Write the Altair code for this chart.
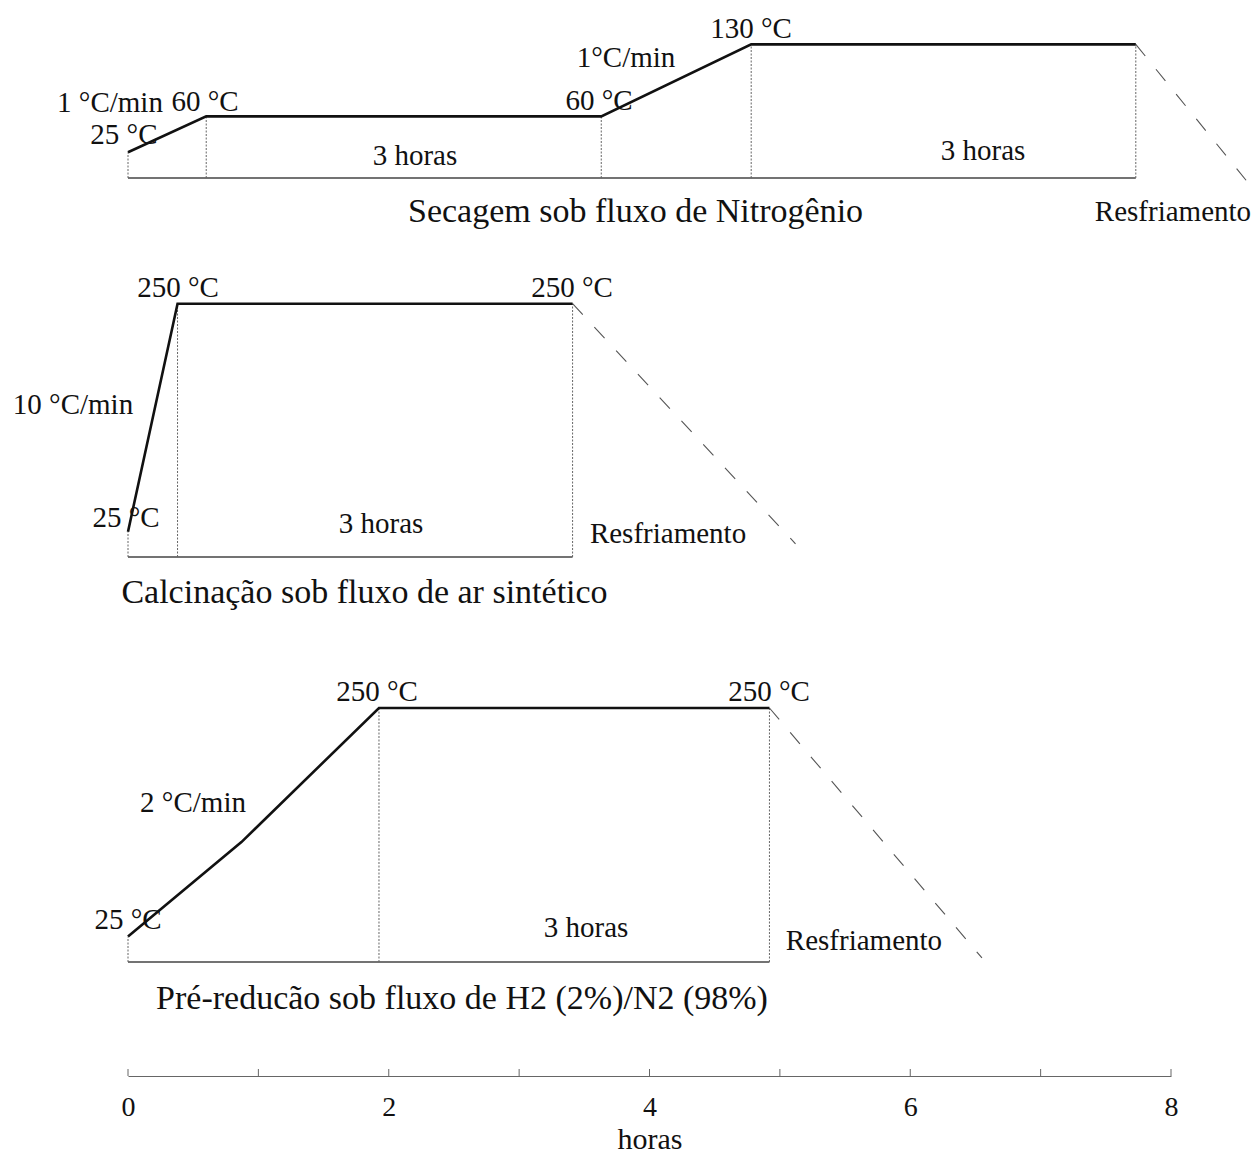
import altair as alt
import pandas as pd

FONT = "Liberation Serif"
INK = "#111111"
GUIDE = "#666666"

HOURS_DOMAIN = [0, 8]
PLOT_WIDTH = 1043

# Secagem sob fluxo de Nitrogênio: (horas, °C) breakpoints of the program
SEC_TIME = [0.0, 0.60, 3.63, 4.78, 7.73]
SEC_TEMP = [25, 60, 60, 130, 130]
SEC_COOL = [8.60, -6]          # end of the cooling stroke
SEC_LABELS = [
    ("1 °C/min", -0.138, 73.0),
    ("25 °C", -0.031, 41.8),
    ("60 °C", 0.591, 73.9),
    ("3 horas", 2.201, 21.4),
    ("60 °C", 3.613, 74.9),
    ("1°C/min", 3.820, 116.7),
    ("130 °C", 4.779, 144.9),
    ("3 horas", 6.558, 26.3),
    ("Resfriamento", 8.015, -33.1),
]
SEC_TITLE = ("Secagem sob fluxo de Nitrogênio", 3.893, -33.1)

# Calcinação sob fluxo de ar sintético
CAL_TIME = [0.0, 0.38, 3.41]
CAL_TEMP = [25, 250, 250]
CAL_COOL = [5.12, 13]
CAL_LABELS = [
    ("250 °C", 0.384, 265.5),
    ("250 °C", 3.406, 265.5),
    ("10 °C/min", -0.422, 150.0),
    ("25 °C", -0.015, 38.5),
    ("3 horas", 1.941, 32.6),
    ("Resfriamento", 4.142, 22.7),
]
CAL_TITLE = ("Calcinação sob fluxo de ar sintético", 1.814, -35.5)

# Pré-redução sob fluxo de H2 (2%)/N2 (98%)
PRE_TIME = [0.0, 0.87, 1.925, 4.92]
PRE_TEMP = [25, 118, 250, 250]
PRE_COOL = [6.55, 4]
PRE_LABELS = [
    ("250 °C", 1.910, 265.7),
    ("250 °C", 4.917, 265.7),
    ("2 °C/min", 0.499, 156.5),
    ("25 °C", 0.0, 41.3),
    ("3 horas", 3.513, 33.5),
    ("Resfriamento", 5.645, 20.7),
]
PRE_TITLE = ("Pré-reducão sob fluxo de H2 (2%)/N2 (98%)", 2.562, -36.4)

AXIS_HOURS = list(range(0, 9))

LABEL_SIZE = 29
TITLE_SIZE = 34


def stage_bounds(time, temp):
    """Indices where a heating stage starts or ends (first, last, or next to a plateau)."""
    idx = []
    n = len(time)
    for i in range(n):
        flat_prev = i > 0 and temp[i] == temp[i - 1]
        flat_next = i < n - 1 and temp[i] == temp[i + 1]
        if i == 0 or i == n - 1 or flat_prev or flat_next:
            idx.append(i)
    return idx


def panel(time, temp, cool, labels, title, height, ydom, axis=None, ticks=False):
    x_scale = alt.Scale(domain=HOURS_DOMAIN, nice=False, zero=False)
    y_scale = alt.Scale(domain=ydom, nice=False, zero=False)

    def X():
        return alt.X("t:Q", scale=x_scale, axis=axis)

    def Y():
        return alt.Y("T:Q", scale=y_scale, axis=None)

    profile = pd.DataFrame({"t": time, "T": temp, "step": range(len(time))})
    bounds = stage_bounds(time, temp)
    guides = pd.DataFrame({
        "t": [time[i] for i in bounds],
        "T": [0] * len(bounds),
        "T2": [temp[i] for i in bounds],
    })
    base = pd.DataFrame({"t": [time[0]], "t2": [time[-1]], "T": [0]})
    cooling = pd.DataFrame({"t": [time[-1], cool[0]], "T": [temp[-1], cool[1]], "step": [0, 1]})
    texts = pd.DataFrame(
        [{"text": s, "t": t, "T": T, "size": LABEL_SIZE} for s, t, T in labels]
        + [{"text": title[0], "t": title[1], "T": title[2], "size": TITLE_SIZE}]
    )

    layers = [
        alt.Chart(base).mark_rule(color="#444444", strokeWidth=1.3).encode(
            x=X(), x2=alt.X2("t2:Q"), y=Y()
        ),
        alt.Chart(guides).mark_rule(color=GUIDE, strokeWidth=1, strokeDash=[2, 1.5]).encode(
            x=X(), y=Y(), y2=alt.Y2("T2:Q")
        ),
        alt.Chart(cooling).mark_line(color="#555555", strokeWidth=1.1, strokeDash=[15, 17]).encode(
            x=X(), y=Y(), order="step:Q"
        ),
        alt.Chart(profile).mark_line(color=INK, strokeWidth=2.6).encode(
            x=X(), y=Y(), order="step:Q"
        ),
        alt.Chart(texts).mark_text(font=FONT, color=INK, baseline="middle", align="center").encode(
            x=X(), y=Y(), text="text:N", size=alt.Size("size:Q", scale=None, legend=None)
        ),
    ]
    if ticks:
        tick_df = pd.DataFrame({"t": AXIS_HOURS})
        layers.append(
            alt.Chart(tick_df).mark_rule(color=GUIDE, strokeWidth=1).encode(
                x=X(), y=alt.value(height - 7), y2=alt.value(height)
            )
        )
    return alt.layer(*layers).properties(width=PLOT_WIDTH, height=height)


hours_axis = alt.Axis(
    values=AXIS_HOURS,
    labelExpr="datum.value % 2 == 0 ? datum.label : ''",
    ticks=False,
    grid=False,
    domainColor=GUIDE,
    domainWidth=1.2,
    labelFont=FONT,
    labelFontSize=28,
    labelColor=INK,
    labelPadding=17,
    labelFlush=False,
    title="horas",
    titleFont=FONT,
    titleFontSize=30,
    titleFontWeight="normal",
    titleColor=INK,
    titlePadding=3,
)

p1 = panel(SEC_TIME, SEC_TEMP, SEC_COOL, SEC_LABELS, SEC_TITLE, 177, [0, 172.2])
p2 = panel(CAL_TIME, CAL_TEMP, CAL_COOL, CAL_LABELS, CAL_TITLE, 356, [0, 351.4])
p3 = panel(PRE_TIME, PRE_TEMP, PRE_COOL, PRE_LABELS, PRE_TITLE, 496, [-112.2, 376.0],
           axis=hours_axis, ticks=True)

chart = (
    alt.vconcat(p1, p2, p3, spacing=23, bounds="flush")
    .resolve_scale(x="independent", y="independent")
    .properties(
        padding={"left": 12, "top": 0, "right": 0, "bottom": 0},
        background="white",
    )
    .configure_view(stroke="transparent")
)

chart.save("out.html", embed_options={"renderer": "svg", "actions": False})
